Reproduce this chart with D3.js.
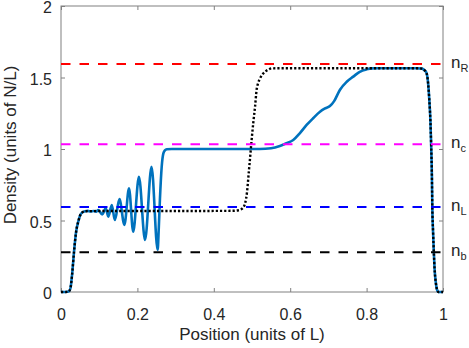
<!DOCTYPE html>
<html>
<head>
<meta charset="utf-8">
<script src="https://cdn.jsdelivr.net/npm/d3@7"></script>
<style>
  body { margin: 0; background: #ffffff; }
  svg { display: block; font-family: "Liberation Sans", Arial, Helvetica, sans-serif; }
</style>
</head>
<body>
<div id="chart"></div>
<script>
// Tick values
const xTicks = [0, 0.2, 0.4, 0.6, 0.8, 1];
const yTicks = [0, 0.5, 1, 1.5, 2];

// Reference density levels (dashed lines) and their labels
const levelValues = [1.594, 1.033, 0.594, 0.278];
const levelNames = ["R", "c", "L", "b"];
const levelColors = ["#ff0000", "#ff00ff", "#0000ff", "#000000"];

// Dotted curve (initial/step profile)
const dotX = [0, 0.012, 0.02, 0.025, 0.029, 0.034, 0.039, 0.046, 0.05, 0.055, 0.063,
  0.1, 0.2, 0.3, 0.4, 0.45, 0.465, 0.475, 0.482, 0.487, 0.492, 0.496, 0.499, 0.504,
  0.508, 0.512, 0.516, 0.521, 0.527, 0.534, 0.543, 0.552, 0.6, 0.8, 0.93, 0.945,
  0.952, 0.957, 0.961, 0.964, 0.967, 0.969, 0.971, 0.972, 0.974, 0.976, 0.978,
  0.981, 0.984, 0.988, 1];
const dotY = [0, 0, 0.003, 0.03, 0.12, 0.278, 0.41, 0.5, 0.535, 0.555, 0.565,
  0.566, 0.566, 0.566, 0.567, 0.568, 0.572, 0.585, 0.62, 0.7, 0.85, 0.97, 1.063, 1.2,
  1.296, 1.413, 1.46, 1.494, 1.52, 1.54, 1.555, 1.564, 1.565, 1.565, 1.565, 1.562,
  1.55, 1.53, 1.46, 1.35, 1.2, 1.03, 0.8, 0.597, 0.42, 0.278, 0.16,
  0.07, 0.02, 0, 0];

// Solid curve (evolved density)
const solidX = [0, 0.012, 0.02, 0.025, 0.029, 0.034, 0.039, 0.046, 0.05, 0.055, 0.063,
  0.07, 0.078, 0.085, 0.092, 0.0976, 0.108, 0.117, 0.124, 0.133, 0.141, 0.153, 0.166,
  0.178, 0.189, 0.204, 0.22, 0.237, 0.253, 0.256, 0.259, 0.2636, 0.268, 0.272, 0.277,
  0.29, 0.35, 0.45, 0.52, 0.55, 0.573, 0.59, 0.608, 0.625, 0.643, 0.66, 0.678, 0.69,
  0.704, 0.715, 0.73, 0.748, 0.765, 0.782, 0.8, 0.815, 0.83, 0.93, 0.945,
  0.952, 0.957, 0.961, 0.964, 0.967, 0.969, 0.971, 0.972, 0.974, 0.976, 0.978,
  0.981, 0.984, 0.988, 1];
const solidY = [0, 0, 0.003, 0.03, 0.12, 0.278, 0.41, 0.5, 0.535, 0.555, 0.565,
  0.567, 0.563, 0.566, 0.562, 0.573, 0.543, 0.585, 0.527, 0.608, 0.503, 0.65, 0.469,
  0.725, 0.422, 0.806, 0.364, 0.876, 0.294, 0.45, 0.65, 0.876, 0.97, 0.99, 0.998,
  1.0, 1.0, 1.0, 1.0, 1.005, 1.021, 1.04, 1.063, 1.11, 1.168, 1.215, 1.261, 1.282,
  1.3, 1.335, 1.413, 1.47, 1.506, 1.54, 1.557, 1.564, 1.565, 1.565, 1.562,
  1.55, 1.53, 1.46, 1.35, 1.2, 1.03, 0.8, 0.597, 0.42, 0.278, 0.16,
  0.07, 0.02, 0, 0];

const WIDTH = 469;
const HEIGHT = 348;
const margin = { top: 6, right: 26, bottom: 56, left: 61 };

const svg = d3
  .select("#chart")
  .append("svg")
  .attr("width", WIDTH)
  .attr("height", HEIGHT);

// Scales
const xScale = d3
  .scaleLinear()
  .domain([0, 1])
  .range([margin.left, WIDTH - margin.right]);

const yScale = d3
  .scaleLinear()
  .domain([0, 2])
  .range([HEIGHT - margin.bottom, margin.top]);

const axisColor = "#808080";
const textColor = "#262626";

// Axes with inward ticks (box on all four sides)
function styleAxis(g) {
  g.select(".domain").remove();
  g.selectAll(".tick line").attr("stroke", axisColor);
  g.selectAll(".tick text")
    .attr("fill", textColor)
    .attr("font-size", "16px");
}

svg
  .append("g")
  .attr("transform", `translate(0, ${yScale(0)})`)
  .call(d3.axisBottom(xScale).tickValues(xTicks).tickFormat(d3.format("")).tickSizeInner(-4).tickSizeOuter(0).tickPadding(17))
  .call(styleAxis);

svg
  .append("g")
  .attr("transform", `translate(0, ${yScale(2)})`)
  .call(d3.axisTop(xScale).tickValues(xTicks).tickFormat("").tickSizeInner(-4).tickSizeOuter(0))
  .call(styleAxis);

svg
  .append("g")
  .attr("transform", `translate(${xScale(0)}, 0)`)
  .call(d3.axisLeft(yScale).tickValues(yTicks).tickFormat(d3.format("")).tickSizeInner(-4).tickSizeOuter(0).tickPadding(9))
  .call(styleAxis)
  .call((g) => g.selectAll(".tick text").attr("dy", "0.42em"));

svg
  .append("g")
  .attr("transform", `translate(${xScale(1)}, 0)`)
  .call(d3.axisRight(yScale).tickValues(yTicks).tickFormat("").tickSizeInner(-4).tickSizeOuter(0))
  .call(styleAxis);

// Box
svg
  .append("rect")
  .attr("x", xScale(0))
  .attr("y", yScale(2))
  .attr("width", xScale(1) - xScale(0))
  .attr("height", yScale(0) - yScale(2))
  .attr("fill", "none")
  .attr("stroke", axisColor)
  .attr("stroke-width", 1);

// Curves
const line = d3
  .line()
  .x((d) => xScale(d[0]))
  .y((d) => yScale(d[1]))
  .curve(d3.curveMonotoneX);

const solidData = solidX.map((x, i) => [x, solidY[i]]);
const dotData = dotX.map((x, i) => [x, dotY[i]]);

svg
  .append("path")
  .datum(solidData)
  .attr("d", line)
  .attr("fill", "none")
  .attr("stroke", "#0072bd")
  .attr("stroke-width", 2.6)
  .attr("stroke-linejoin", "round");

svg
  .append("path")
  .datum(dotData)
  .attr("d", line)
  .attr("fill", "none")
  .attr("stroke", "#000000")
  .attr("stroke-width", 2.4)
  .attr("stroke-dasharray", "2.2,2");

// Dashed reference levels
svg
  .selectAll("line.level")
  .data(levelValues)
  .enter()
  .append("line")
  .attr("class", "level")
  .attr("x1", xScale(0))
  .attr("x2", xScale(1))
  .attr("y1", (d) => yScale(d))
  .attr("y2", (d) => yScale(d))
  .attr("stroke", (d, i) => levelColors[i])
  .attr("stroke-width", 2)
  .attr("stroke-dasharray", "9.5,9");

// Level labels on the right
const labels = svg
  .selectAll("text.level-label")
  .data(levelValues)
  .enter()
  .append("text")
  .attr("class", "level-label")
  .attr("x", xScale(1) + 8)
  .attr("y", (d) => yScale(d) + 4)
  .attr("fill", textColor)
  .attr("font-size", "17px");

labels.append("tspan").text("n");
labels
  .append("tspan")
  .attr("dy", 4)
  .attr("font-size", "11px")
  .text((d, i) => levelNames[i]);

// Axis labels
svg
  .append("text")
  .attr("x", (xScale(0) + xScale(1)) / 2)
  .attr("y", 340)
  .attr("text-anchor", "middle")
  .attr("fill", textColor)
  .attr("font-size", "17px")
  .text("Position (units of L)");

svg
  .append("text")
  .attr("transform", "rotate(-90)")
  .attr("x", -145)
  .attr("y", 16)
  .attr("text-anchor", "middle")
  .attr("fill", textColor)
  .attr("font-size", "17px")
  .text("Density (units of N/L)");
</script>
</body>
</html>
